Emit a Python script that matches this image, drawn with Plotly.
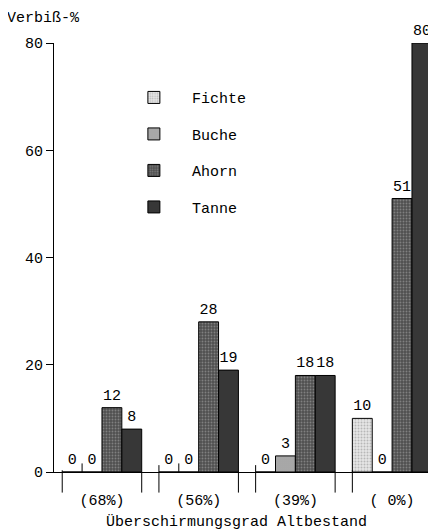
import plotly.graph_objects as go

categories = ["(68%)", "(56%)", "(39%)", "( 0%)"]
species = ["Fichte", "Buche", "Ahorn", "Tanne"]
fichte = [0, 0, 0, 10]
buche = [0, 0, 3, 0]
ahorn = [12, 28, 18, 51]
tanne = [8, 19, 18, 80]
y_ticks = [0, 20, 40, 60, 80]

series = [fichte, buche, ahorn, tanne]
styles = [
    dict(bgcolor="#e6e6e6", fgcolor="#8a8a8a", shape=".", size=3, solidity=0.35),
    dict(bgcolor="#b4b4b4", fgcolor="#707070", shape=".", size=2, solidity=0.4),
    dict(bgcolor="#505050", fgcolor="#b0b0b0", shape=".", size=3, solidity=0.3),
    dict(bgcolor="#2e2e2e", fgcolor="#5a5a5a", shape=".", size=2, solidity=0.4),
]
FONT = "Liberation Mono, Courier New, monospace"
BARGAP = 0.178

fig = go.Figure()
for name, vals, st in zip(species, series, styles):
    fig.add_trace(go.Bar(
        x=categories, y=vals, name=name, legendgroup=name,
        text=[str(v) for v in vals], textposition="outside",
        textfont=dict(family=FONT, size=15, color="black"),
        cliponaxis=False,
        marker=dict(color=st["bgcolor"], line=dict(color="black", width=1),
                    pattern=dict(shape=st["shape"], fgcolor=st["fgcolor"], bgcolor=st["bgcolor"],
                                 size=st["size"], solidity=st["solidity"], fillmode="overlay")),
    ))

# group edge ticks below the axis
w = 1 - BARGAP
shapes = []
for i in range(len(categories)):
    left = i - w / 2
    right = i + w / 2
    shapes.append(dict(type="line", xref="x", yref="paper", x0=left, x1=left,
                       y0=0.016 if i in (1, 2) else 0.004, y1=-0.048,
                       line=dict(color="black", width=1)))
    shapes.append(dict(type="line", xref="x", yref="paper", x0=right, x1=right,
                       y0=0.0, y1=-0.048, line=dict(color="black", width=1)))
    if i in (0, 1):
        xm = left + w / 4
        shapes.append(dict(type="line", xref="x", yref="paper", x0=xm, x1=xm,
                           y0=0.0, y1=0.02, line=dict(color="black", width=1)))

# page body has an 8px margin, so the figure's margins are offset by 8px
fig.update_layout(
    width=436, height=530,
    margin=dict(l=46, r=8, t=35, b=66, autoexpand=False),
    paper_bgcolor="white", plot_bgcolor="white",
    barmode="group", bargap=BARGAP, bargroupgap=0,
    font=dict(family=FONT, size=15, color="black"),
    shapes=shapes,
    legend=dict(x=0.162, y=0.911, xanchor="left", yanchor="top",
                traceorder="grouped", tracegroupgap=14, itemwidth=66,
                font=dict(family=FONT, size=15), bgcolor="rgba(0,0,0,0)"),
    xaxis=dict(range=[-0.496, 3.454], showline=True, linecolor="black", linewidth=1,
               ticks="", ticklabelstandoff=14, showgrid=False, zeroline=False, automargin=False,
               tickfont=dict(family=FONT, size=15)),
    yaxis=dict(range=[0, 80], tickvals=y_ticks, showline=True, linecolor="black", linewidth=1,
               ticks="outside", ticklen=7, tickcolor="black", showgrid=False, zeroline=False,
               automargin=False, tickfont=dict(family=FONT, size=15)),
    annotations=[
        dict(text="Verbiß-%", xref="paper", yref="paper", x=-0.128, y=1.0, yshift=25,
             xanchor="left", yanchor="middle", showarrow=False,
             font=dict(family=FONT, size=15)),
        dict(text="Überschirmungsgrad Altbestand", xref="paper", yref="paper",
             x=(236 - 54) / 382, y=0, yshift=-50, xanchor="center", yanchor="middle",
             showarrow=False, font=dict(family=FONT, size=15)),
    ],
)

fig.write_html("out.html")
